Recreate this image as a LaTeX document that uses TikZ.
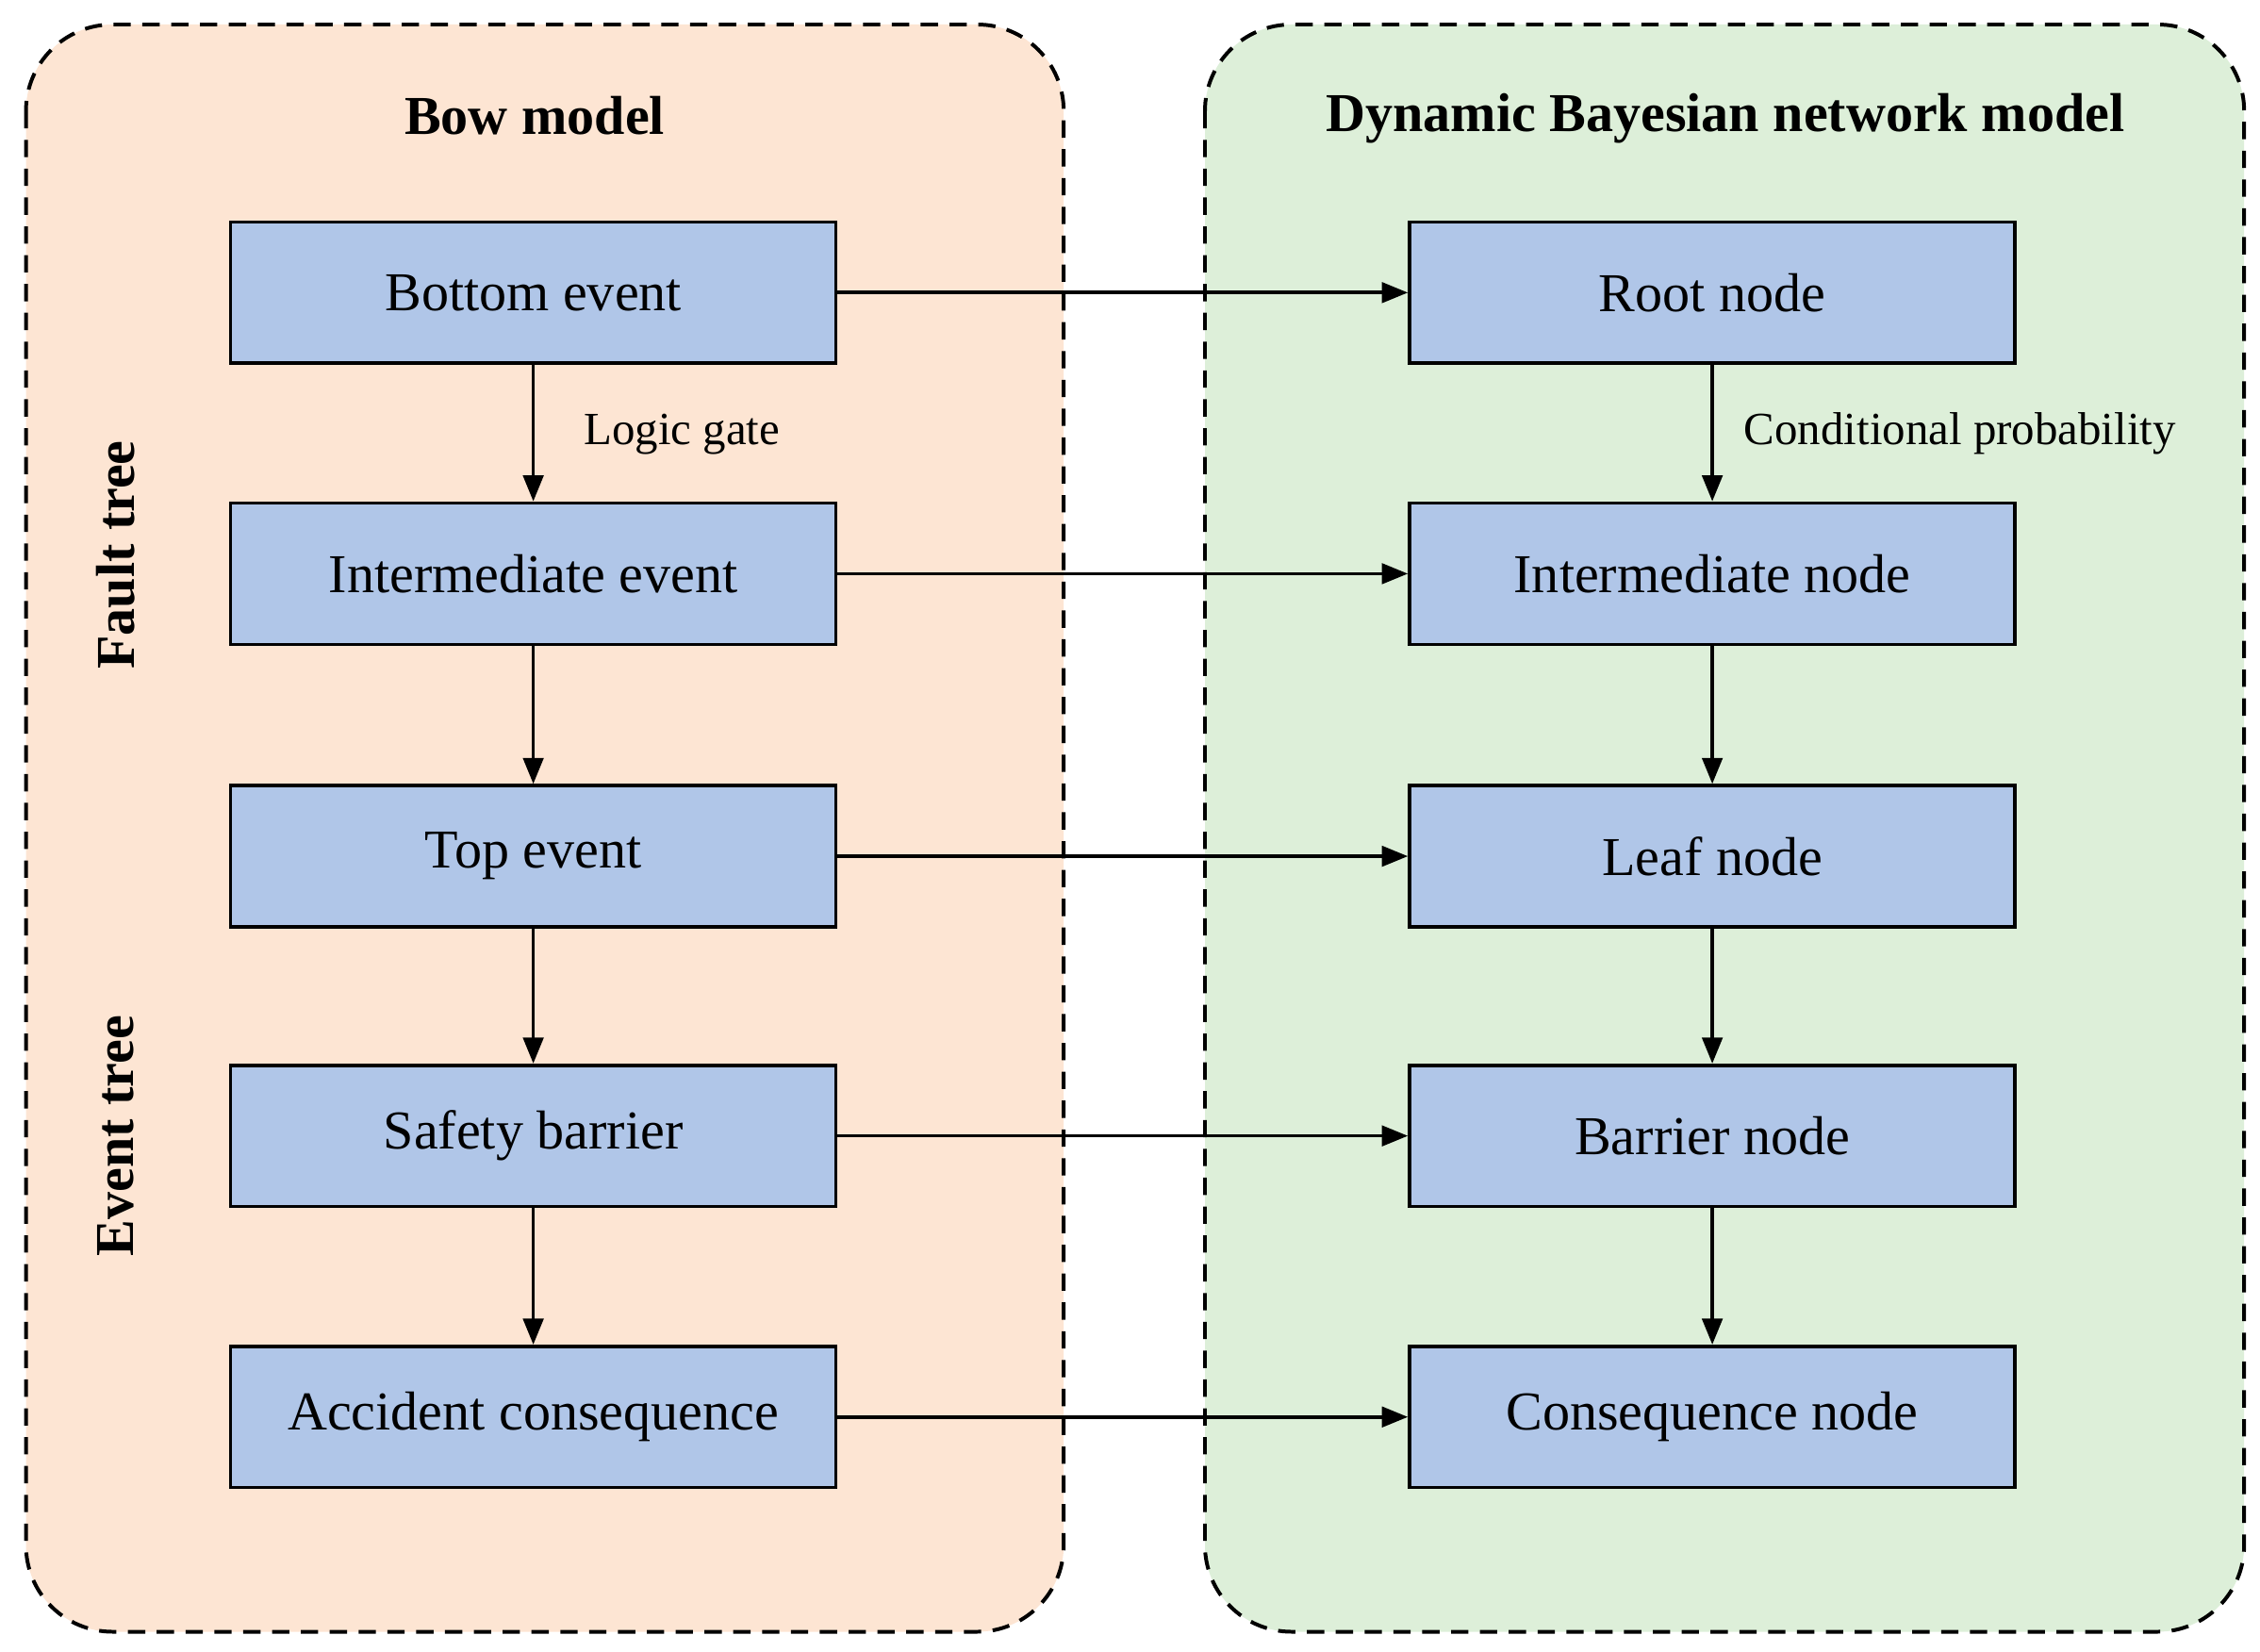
\documentclass[tikz,border=0pt]{standalone}
\usepackage{fontspec}
\setmainfont{Liberation Serif}
\usetikzlibrary{arrows.meta}
\begin{document}
\begin{tikzpicture}[x=0.5pt,y=-0.5pt,
 panel/.style={draw,line width=1.3pt,dash pattern=on 6pt off 4pt,rounded corners=30pt},
 box/.style={draw,line width=1.2pt,fill=boxc,minimum width=210pt,minimum height=49pt,inner sep=0pt,font=\fontsize{19}{22}\selectfont},
 arr/.style={line width=1.2pt,-{Triangle[length=9pt,width=7pt]}},
 lab/.style={font=\fontsize{16}{19}\selectfont},
 ttl/.style={font=\bfseries\fontsize{19}{22}\selectfont}]
\definecolor{boxc}{HTML}{B0C6E8}
\definecolor{lc}{HTML}{FDE5D3}
\definecolor{rc}{HTML}{DDEFD9}
\useasboundingbox (0,0) rectangle (1568,1146);
\draw[panel,fill=lc] (18,17) rectangle (738,1132);
\draw[panel,fill=rc] (836,17) rectangle (1557,1132);
\node[ttl] (t1) at (371,80) {Bow model};
\node[ttl] (t2) at (1197,82) {Dynamic Bayesian network model};
\node[ttl,rotate=90] (ft) at (80,385) {Fault tree};
\node[ttl,rotate=90] (et) at (80,788) {Event tree};
\foreach \n/\y/\a/\b in {1/203/Bottom event/Root node,2/398/Intermediate event/Intermediate node,3/594/Top event/Leaf node,4/788/Safety barrier/Barrier node,5/983/Accident consequence/Consequence node}{
 \node[box] (l\n) at (370,\y) {\a};
 \node[box] (r\n) at (1188,\y) {\b};
 \draw[arr] (l\n) -- (r\n);
}
\foreach \i/\j in {1/2,2/3,3/4,4/5}{
 \draw[arr] (l\i) -- (l\j);
 \draw[arr] (r\i) -- (r\j);
}
\node[lab,anchor=west] (lg) at (398,301) {Logic gate};
\node[lab,anchor=west] (cp) at (1203,301) {Conditional probability};
\end{tikzpicture}
\end{document}
